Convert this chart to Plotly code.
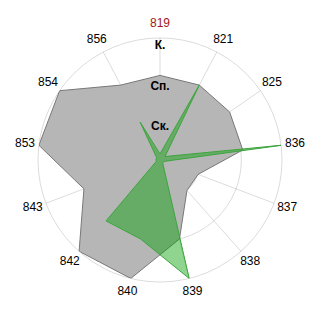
import plotly.graph_objects as go

categories = ['819', '821', '825', '836', '837', '838', '839', '840', '842', '843', '853', '854', '856']
gray_values = [2.08, 2.08, 2.08, 2.05, 1.0, 1.0, 2.0, 3.0, 3.0, 2.0, 3.0, 3.0, 2.08]
green_values = [0.15, 2.08, 0.15, 3.05, 0.1, 0.1, 3.0, 2.0, 2.0, 0.1, 0.1, 0.1, 1.05]
level_vals = [1, 2, 3]
level_labels = ['Ск.', 'Сп.', 'К.']
label_colors = ['#a01818'] + ['black'] * (len(categories) - 1)

R_MAX = 3
LABEL_R = R_MAX * 1.115       # angular labels just outside the outer ring
LEVEL_OFFSET = 0.2            # level labels sit just inside each ring
OUTER_R = 3.5                 # range of the transparent label layer

W = 320
M = 10
plot_px = W - 2 * M
radius_px = 122
scale = radius_px / R_MAX


def dom(rad):
    half = rad / plot_px
    return [0.5 - half, 0.5 + half]


fig = go.Figure()
fig.add_trace(go.Scatterpolar(
    r=gray_values + [gray_values[0]], theta=categories + [categories[0]],
    mode='lines', fill='toself', fillcolor='rgb(182,182,182)',
    line=dict(color='rgb(120,120,120)', width=1), hoverinfo='skip'))
fig.add_trace(go.Scatterpolar(
    r=green_values + [green_values[0]], theta=categories + [categories[0]],
    mode='lines', fill='toself', fillcolor='rgba(0,160,0,0.44)',
    line=dict(color='rgb(60,165,60)', width=1), hoverinfo='skip'))
fig.add_trace(go.Scatterpolar(
    r=[v - LEVEL_OFFSET for v in level_vals], theta=[categories[0]] * len(level_vals),
    mode='text', text=level_labels, textposition='middle center',
    textfont=dict(family='Liberation Sans, Arial', size=12, color='black', weight='bold'),
    hoverinfo='skip', cliponaxis=False))
fig.add_trace(go.Scatterpolar(
    r=[LABEL_R] * len(categories), theta=categories, subplot='polar2',
    mode='text', text=categories, textposition='middle center',
    textfont=dict(family='Liberation Sans, Arial', size=12, color=label_colors),
    hoverinfo='skip', cliponaxis=False))

fig.update_layout(
    width=W, height=W, showlegend=False,
    margin=dict(l=M, r=M, t=M, b=M),
    paper_bgcolor='white',
    polar=dict(
        bgcolor='white',
        domain=dict(x=dom(radius_px), y=dom(radius_px)),
        radialaxis=dict(range=[0, R_MAX], tickvals=level_vals, showticklabels=False,
                        ticks='', showline=False, gridcolor='rgba(0,0,0,0.14)',
                        gridwidth=1, layer='above traces'),
        angularaxis=dict(type='category', categoryarray=categories,
                         showticklabels=False,
                         direction='clockwise', rotation=90, ticks='',
                         linecolor='rgba(0,0,0,0.14)', gridcolor='rgba(0,0,0,0.14)',
                         layer='above traces'),
    ),
    polar2=dict(
        bgcolor='rgba(0,0,0,0)',
        domain=dict(x=dom(OUTER_R * scale), y=dom(OUTER_R * scale)),
        radialaxis=dict(range=[0, OUTER_R], visible=False),
        angularaxis=dict(type='category', categoryarray=categories,
                         direction='clockwise', rotation=90, visible=False),
    ),
)
fig.write_html('out.html')
